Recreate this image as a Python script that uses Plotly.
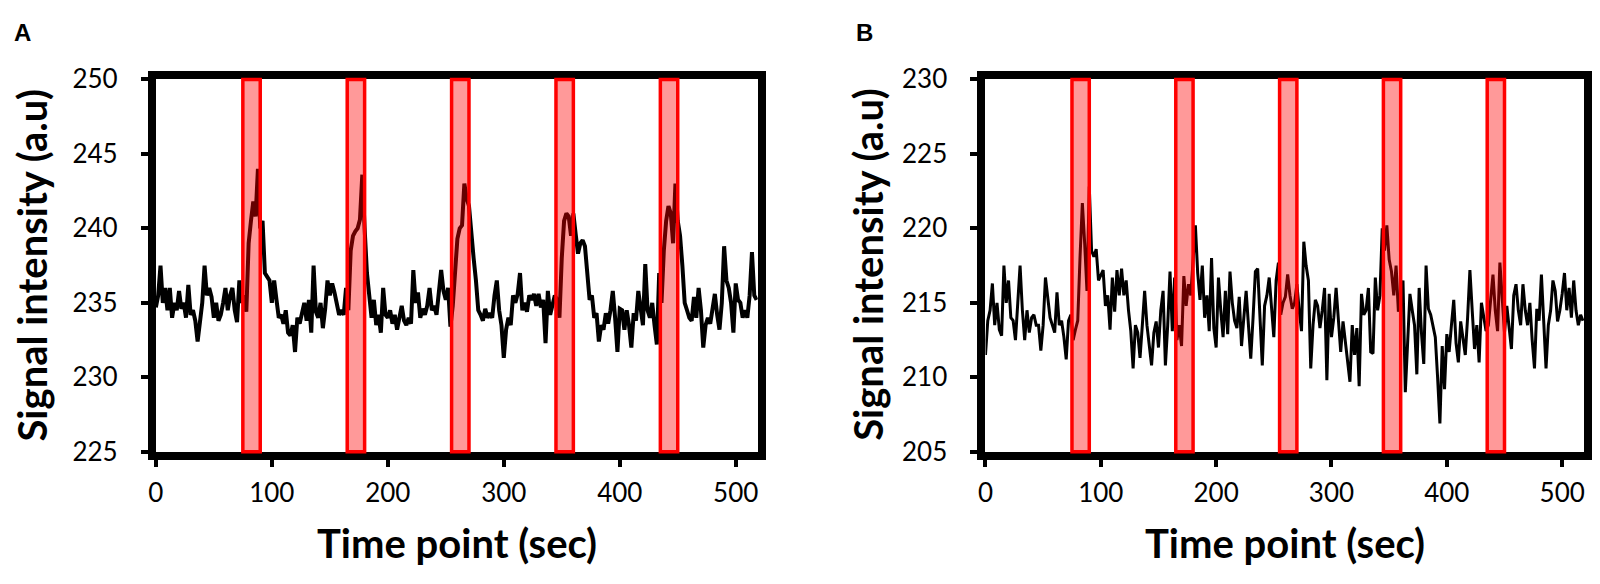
import plotly.graph_objects as go

# ---------------- data ----------------
sample_step_sec = 2  # sampling interval of the traces

signal_a = [
    234.7, 235.5, 237.5, 235, 236, 234.5, 236, 234, 235, 234.5,
    235.8, 234.6, 235, 234, 236.2, 234.2, 234.5, 233.8, 232.4, 234,
    235, 237.5, 235.5, 236, 235.4, 234, 235, 233.8, 234.2, 235,
    236, 234.5, 235.5, 236, 234.5, 233.7, 236.5, 235, 235.5, 234.4,
    239, 240.5, 241.8, 240.8, 244, 240, 240.5, 237, 236.8, 236.5,
    235, 236.5, 235.2, 234, 234.2, 233.6, 234.5, 233, 232.8, 233.5,
    231.7, 234, 233.6, 234.2, 235, 233.8, 235.2, 233, 237.5, 234.4,
    234, 235, 233.3, 234.6, 236.5, 235.5, 236.3, 235.7, 235, 234.2,
    234.5, 234.2, 236, 234.5, 238.5, 239.5, 239.8, 240, 240.6, 243.6,
    240, 237, 235.5, 234, 235.2, 233.5, 234.2, 233, 236, 234.2,
    234, 234.5, 233.6, 234.2, 233.2, 234, 234.8, 233.8, 233.5, 234,
    233.6, 237.2, 235, 235.7, 234, 234.6, 234.2, 234.8, 236, 234.5,
    234.8, 234.2, 235.5, 237.2, 235.8, 235.2, 236, 233.4, 234.8, 237.5,
    239.3, 240, 240.2, 243, 242, 241.5, 239.5, 238, 236.5, 234.5,
    234.2, 233.8, 234.6, 234, 234.3, 234, 235.5, 236.5, 234.5, 233.5,
    231.3, 233.2, 234, 233.5, 235.5, 235, 235.6, 237, 234.5, 235,
    234.4, 235.5, 235.2, 235.6, 234.8, 235.6, 234.7, 235.2, 232.3, 235.8,
    234.2, 235, 235.5, 235.2, 234, 238, 240.5, 241, 240.8, 239.5,
    241, 239.6, 238.3, 239, 239.2, 238.8, 237, 235.2, 235.5, 234,
    234.3, 232.4, 233.5, 233.2, 234.3, 233.6, 234.5, 235.8, 234, 231.7,
    234.6, 234.5, 233.2, 234.5, 233.5, 232, 234.3, 233.8, 235.8, 234.5,
    233.5, 237.6, 234.5, 234, 235, 233.5, 232.2, 237, 235, 238.5,
    240.5, 241.5, 241, 239, 243, 240.5, 239.5, 237.5, 235, 234.5,
    234, 233.8, 235.4, 234, 236, 234.5, 232, 233.5, 234, 233.6,
    234.8, 235.6, 234.2, 233.2, 235, 238.8, 236.5, 236, 235, 233,
    236.3, 235.2, 235, 234, 234.5, 234, 235.5, 238.4, 235.5, 235.2,
]

signal_b = [
    211.5, 213.8, 214.5, 216.3, 213.5, 215, 213.2, 212.8, 217.5, 215,
    216.5, 214, 213.8, 212.5, 215, 217.5, 214.5, 212.5, 214.5, 213,
    214, 214.2, 213.5, 213.5, 211.8, 213.5, 216.7, 215.5, 214, 213.5,
    213, 215.7, 213.5, 213.8, 212.7, 211.2, 213.8, 214.2, 212.5, 213.2,
    213.8, 218.1, 221.7, 219, 215.8, 222.8, 218.5, 218.1, 218.6, 216.5,
    216.8, 217.2, 214.8, 215.5, 213.2, 216.7, 214.4, 217.2, 215.5, 217.3,
    215.5, 216.5, 214.5, 213.1, 210.6, 213.5, 213, 211.3, 213.5, 215.8,
    213.5, 211.9, 210.8, 213, 213.75, 212, 214.5, 215.8, 210.8, 213.5,
    217.1, 213.1, 216.7, 212.5, 213.5, 212.1, 216.8, 214.8, 216.25, 215.5,
    217.9, 220.2, 217, 215.2, 217.5, 214, 215.5, 213.1, 218, 213.3,
    212, 216.7, 214.5, 212.7, 215.8, 212.9, 217.1, 215, 213.8, 213.3,
    215.4, 212.1, 214, 215.8, 213.5, 211.25, 214, 217.1, 217.3, 214,
    210.8, 214.8, 215.5, 216.7, 214.5, 212.7, 216.5, 217.7, 214.2, 215,
    215.4, 216.9, 215.5, 214.6, 215, 216.25, 214.5, 213.1, 219.1, 217.5,
    216.5, 210.6, 213.5, 215.2, 214.8, 213.3, 214.5, 216, 209.8, 215.6,
    212.7, 214, 216, 214, 211.7, 213.75, 212.5, 211, 209.7, 213.5,
    211.5, 213.3, 209.4, 215.6, 214.2, 214.5, 216, 211.7, 211.6, 216.7,
    214.5, 215.5, 220, 218.5, 220.2, 217.9, 217.1, 215.5, 217.5, 214.4,
    215.5, 216.5, 209, 212.5, 215.6, 214.5, 213.5, 210.2, 216, 213,
    210.9, 217.5, 214.6, 214.2, 213.5, 212.7, 210, 206.9, 212.1, 209.2,
    212.9, 211.7, 213.5, 215.2, 212.3, 211, 213.75, 212.5, 211.5, 214,
    217.2, 214.5, 211.9, 213.5, 211, 215, 214, 213.1, 213.5, 215,
    216.9, 214.5, 213.1, 217.7, 215.5, 213, 214.8, 213.5, 211.9, 215.5,
    216.25, 214.5, 213.5, 216.25, 214.5, 213.5, 215, 212.5, 210.6, 214.6,
    213.8, 216.9, 213.5, 210.6, 213.5, 214.5, 216.5, 215.8, 213.75, 214.5,
    215.6, 217, 214.5, 216, 214, 216.5, 214.5, 213.5, 214.2, 213.8,
]

time_a = [i * sample_step_sec for i in range(len(signal_a))]
time_b = [i * sample_step_sec for i in range(len(signal_b))]

stim_starts = [75, 165, 255, 345, 435]   # stimulation onsets (sec)
stim_duration = 15                         # sec

x_ticks = [0, 100, 200, 300, 400, 500]
y_ticks_a = [225, 230, 235, 240, 245, 250]
y_ticks_b = [205, 210, 215, 220, 225, 230]
x_range = [0, 519]
y_range_a = [225, 250]
y_range_b = [205, 230]

panel_labels = ["A", "B"]
x_title = "Time point (sec)"
y_title = "Signal intensity (a.u)"

# ---------------- figure ----------------
W, H = 1600, 584
FONT = "Lato"


def px_x(p):
    return p / W


def px_y(p):
    return 1 - p / H


LW = 8  # frame line width
dom_a = [px_x(145.7 + 3), px_x(757 - 3)]
dom_b = [px_x(980 + 3), px_x(1588 - 3)]
dom_y = [px_y(463 - 3), px_y(63 + 3)]

fig = go.Figure()
fig.add_trace(go.Scatter(x=time_a, y=signal_a, mode="lines",
                         line=dict(color="black", width=4), xaxis="x", yaxis="y",
                         showlegend=False))
fig.add_trace(go.Scatter(x=time_b, y=signal_b, mode="lines",
                         line=dict(color="black", width=3), xaxis="x2", yaxis="y2",
                         showlegend=False))

axis_common = dict(showline=True, linecolor="black", linewidth=LW, mirror=True,
                   ticks="outside", ticklen=7, tickwidth=4, tickcolor="black",
                   showgrid=False, zeroline=False,
                   tickfont=dict(family=FONT, size=26, color="black"))

fig.update_layout(
    width=W, height=H, margin=dict(l=0, r=0, t=0, b=0),
    paper_bgcolor="white", plot_bgcolor="white",
    xaxis=dict(domain=dom_a, range=x_range, tickvals=x_ticks, anchor="y",
               ticklabelstandoff=4, **axis_common),
    yaxis=dict(domain=dom_y, range=y_range_a, tickvals=y_ticks_a, anchor="x",
               ticklabelstandoff=18, **axis_common),
    xaxis2=dict(domain=dom_b, range=x_range, tickvals=x_ticks, anchor="y2",
                ticklabelstandoff=4, **axis_common),
    yaxis2=dict(domain=dom_y, range=y_range_b, tickvals=y_ticks_b, anchor="x2",
                ticklabelstandoff=18, **axis_common),
)

shapes = []
for xref, yref in [("x", "y domain"), ("x2", "y2 domain")]:
    for s in stim_starts:
        shapes.append(dict(type="rect", xref=xref, yref=yref,
                           x0=s, x1=s + stim_duration, y0=0, y1=1,
                           fillcolor="rgba(255,0,0,0.4)",
                           line=dict(color="red", width=3.5), layer="above"))
fig.update_layout(shapes=shapes)

annotations = []
for dom, lab, lab_x, ytitle_x in [(dom_a, panel_labels[0], 15, 24),
                                  (dom_b, panel_labels[1], 861, 865)]:
    annotations.append(dict(text=f"<b>{lab}</b>", x=px_x(lab_x), y=px_y(16),
                            xref="paper", yref="paper", showarrow=False,
                            xanchor="center", yanchor="middle",
                            font=dict(family="Liberation Sans", size=24, color="black")))
    annotations.append(dict(text=f"<b>{x_title}</b>",
                            x=(dom[0] + dom[1]) / 2, y=px_y(556),
                            xref="paper", yref="paper", showarrow=False,
                            xanchor="center", yanchor="middle",
                            font=dict(family=FONT, size=40, color="black")))
    annotations.append(dict(text=f"<b>{y_title}</b>", x=px_x(ytitle_x),
                            y=px_y(262),
                            xref="paper", yref="paper", showarrow=False, textangle=-90,
                            xanchor="center", yanchor="middle",
                            font=dict(family=FONT, size=40, color="black")))
fig.update_layout(annotations=annotations)

fig.write_html("out.html", config={"displayModeBar": False},
               post_script="document.body.style.margin='0';")
